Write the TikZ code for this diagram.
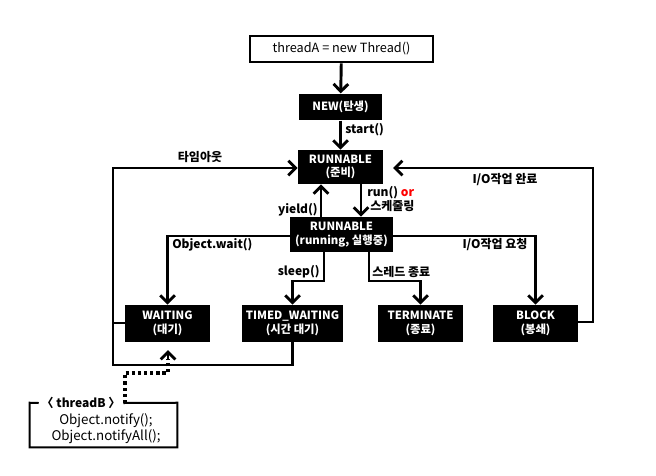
\documentclass[tikz,border=0pt]{standalone}
\usepackage{fontspec}
\setmainfont{Noto Sans CJK KR}
\usetikzlibrary{arrows.meta}
\begin{document}
\begin{tikzpicture}[x=0.75pt,y=-0.75pt,
  ln/.style={line width=2.2pt},
  arr/.style={ln,-{Straight Barb[length=5.5pt,width=11pt]}},
  st/.style={fill=black,text=white,font=\fontsize{8.5}{10}\selectfont\bfseries,align=center,inner sep=0pt,minimum width=63.75pt,minimum height=27.75pt},
  lbl/.style={font=\fontsize{9}{10}\selectfont\bfseries,inner sep=0pt},
  dots/.style={line width=2.4pt,dash pattern=on 2.4pt off 2.2pt}
  ]
\useasboundingbox (0,0) rectangle (656,475);
% nodes
\node[draw,line width=1.5pt,minimum width=137pt,minimum height=20pt,inner sep=0pt,font=\fontsize{9.5}{10}\selectfont] (top) at (341.5,49) {threadA = new Thread()};
\node[st,minimum width=62.25pt,minimum height=20pt] (new) at (340.5,107) {NEW(탄생)};
\node[st,minimum height=25.5pt] (rdy) at (340.5,167) {RUNNABLE\\(준비)};
\node[st,minimum width=77.25pt,minimum height=26.25pt] (run) at (341.5,234.5) {RUNNABLE\\(running, 실행중)};
\node[st] (wait) at (167.5,323.5) {WAITING\\(대기)};
\node[st,minimum width=75.75pt] (tw) at (292.5,323.5) {TIMED\_WAITING\\(시간 대기)};
\node[st] (term) at (420.5,323.5) {TERMINATE\\(종료)};
\node[st] (blk) at (535.5,323.5) {BLOCK\\(봉쇄)};
% threadB box
\node[minimum width=110.25pt,minimum height=33pt,inner sep=0pt] (tb) at (103.5,425) {};
\node[inner sep=0pt,align=center,font=\fontsize{10}{9}\selectfont] (tbtxt) at (106,428.5) {Object.notify();\\Object.notifyAll();};
\node[lbl,fill=white,inner xsep=2pt] (tbt) at (81,403) {〈 threadB 〉};
\draw[line width=1.5pt] (tbt.west) -- (tb.north west) -- (tb.south west) -- (tb.south east) -- (tb.north east) -- (tbt.east);
% connectors
\draw[arr] (top) -- (new);
\draw[arr] (new) -- (rdy);
\node[lbl,anchor=west] (lstart) at (345,130) {start()};
\draw[arr] (rdy.south -| 361,0) -- (run.north -| 361,0);
\draw[arr] (run.north -| 321,0) -- (rdy.south -| 321,0);
\node[lbl,anchor=west] (lrun) at (367,193) {run() \textcolor{red}{or}};
\node[lbl,anchor=west] (lsch) at (370,206) {스케줄링};
\node[lbl,anchor=east] (lyield) at (318,210) {yield()};
\draw[arr] (run.west |- 0,236) -| (wait.north);
\node[lbl,anchor=west] (lwait) at (172,245) {Object.wait()};
\draw[arr] (run.south -| 324,0) |- (292.5,281) -- (tw.north);
\node[lbl,anchor=east] (lsleep) at (320,272) {sleep()};
\draw[arr] (run.south -| 369,0) |- (420.5,281) -- (term.north);
\node[lbl,anchor=west] (lterm) at (372,272) {스레드 종료};
\draw[arr] (run.east |- 0,236) -| (blk.north);
\node[lbl] (lioreq) at (495,245) {I/O작업 요청};
\coordinate (rend) at (393,168);
\draw[arr] (blk.east |- 0,322) -| (593,168) -- (rend);
\node[lbl] (liodone) at (505,180) {I/O작업 완료};
\draw[arr] (tw.south) |- (113,365) |- (rdy.west |- 0,168);
\draw[ln] (wait.west |- 0,323) -- (113,323);
\node[lbl] (ltime) at (200,157) {타임아웃};
% dotted notify arrow
\coordinate (d0) at (125,403);
\coordinate (dtip) at (168,350);
\draw[dots] (d0) |- (168,373) -- (168,359);
\draw[ln,-{Straight Barb[length=5.5pt,width=11pt]}] (168,360) -- (dtip);
\end{tikzpicture}
\end{document}
